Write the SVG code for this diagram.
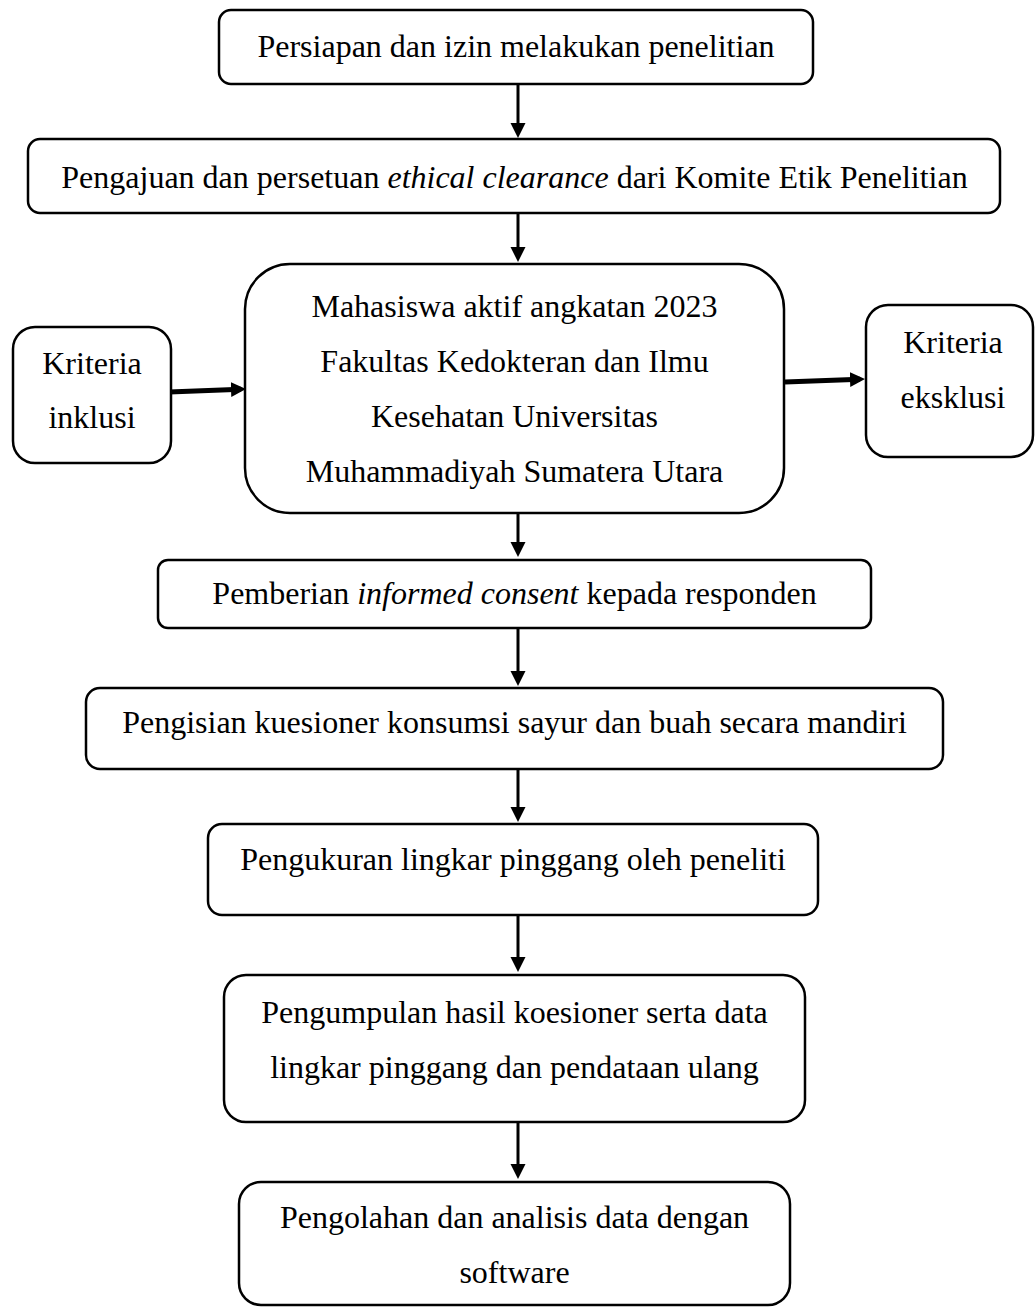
<svg xmlns="http://www.w3.org/2000/svg" width="1035" height="1308" viewBox="0 0 1035 1308">
<style>
.box{fill:#fff;stroke:#000;stroke-width:2.5}
.t{font-family:"Liberation Serif","Times New Roman",serif;font-size:32px;fill:#000;text-anchor:middle}
.i{font-style:italic}
.c{stroke:#000;stroke-width:3;fill:none}
.ct{stroke:#000;stroke-width:5;fill:none}
</style>
<defs>
<marker id="ah" markerUnits="userSpaceOnUse" markerWidth="16" markerHeight="16" refX="10" refY="7.5" orient="auto" viewBox="0 0 16 16">
<path d="M0,0 L15,7.5 L0,15 z" fill="#000"/>
</marker>
</defs>
<rect width="1035" height="1308" fill="#fff"/>
<g id="connectors">
<line class="c" x1="518" y1="84" x2="518" y2="133" marker-end="url(#ah)"/>
<line class="c" x1="518" y1="213" x2="518" y2="257" marker-end="url(#ah)"/>
<line class="c" x1="518" y1="513" x2="518" y2="552" marker-end="url(#ah)"/>
<line class="c" x1="518" y1="628" x2="518" y2="681" marker-end="url(#ah)"/>
<line class="c" x1="518" y1="769" x2="518" y2="817" marker-end="url(#ah)"/>
<line class="c" x1="518" y1="915" x2="518" y2="967" marker-end="url(#ah)"/>
<line class="c" x1="518" y1="1122" x2="518" y2="1174" marker-end="url(#ah)"/>
<line class="ct" x1="169" y1="392" x2="241" y2="389.2" marker-end="url(#ah)"/>
<line class="ct" x1="785" y1="382" x2="860" y2="379.2" marker-end="url(#ah)"/>
</g>
<g id="n1">
<rect class="box" x="219" y="10" width="594" height="74" rx="12"/>
<text class="t" x="516" y="57">Persiapan dan izin melakukan penelitian</text>
</g>
<g id="n2">
<rect class="box" x="28" y="139" width="972" height="74" rx="12"/>
<text class="t" x="514.5" y="188">Pengajuan dan persetuan <tspan class="i">ethical clearance</tspan> dari Komite Etik Penelitian</text>
</g>
<g id="n3">
<rect class="box" x="245" y="264" width="539" height="249" rx="45"/>
<text class="t" x="514.5" y="317">Mahasiswa aktif angkatan 2023</text>
<text class="t" x="514.5" y="372">Fakultas Kedokteran dan Ilmu</text>
<text class="t" x="514.5" y="427">Kesehatan Universitas</text>
<text class="t" x="514.5" y="482">Muhammadiyah Sumatera Utara</text>
</g>
<g id="n_inklusi">
<rect class="box" x="13" y="327" width="158" height="136" rx="22"/>
<text class="t" x="92" y="374">Kriteria</text>
<text class="t" x="92" y="428">inklusi</text>
</g>
<g id="n_eksklusi">
<rect class="box" x="866" y="305" width="167" height="152" rx="22"/>
<text class="t" x="953" y="353">Kriteria</text>
<text class="t" x="953" y="408">eksklusi</text>
</g>
<g id="n4">
<rect class="box" x="158" y="560" width="713" height="68" rx="10"/>
<text class="t" x="514.5" y="604">Pemberian <tspan class="i">informed consent</tspan> kepada responden</text>
</g>
<g id="n5">
<rect class="box" x="86" y="688" width="857" height="81" rx="14"/>
<text class="t" x="514.5" y="733">Pengisian kuesioner konsumsi sayur dan buah secara mandiri</text>
</g>
<g id="n6">
<rect class="box" x="208" y="824" width="610" height="91" rx="14"/>
<text class="t" x="513" y="870">Pengukuran lingkar pinggang oleh peneliti</text>
</g>
<g id="n7">
<rect class="box" x="224" y="975" width="581" height="147" rx="22"/>
<text class="t" x="514.5" y="1023">Pengumpulan hasil koesioner serta data</text>
<text class="t" x="514.5" y="1078">lingkar pinggang dan pendataan ulang</text>
</g>
<g id="n8">
<rect class="box" x="239" y="1182" width="551" height="123" rx="22"/>
<text class="t" x="514.5" y="1228">Pengolahan dan analisis data dengan</text>
<text class="t" x="514.5" y="1283">software</text>
</g>
</svg>
